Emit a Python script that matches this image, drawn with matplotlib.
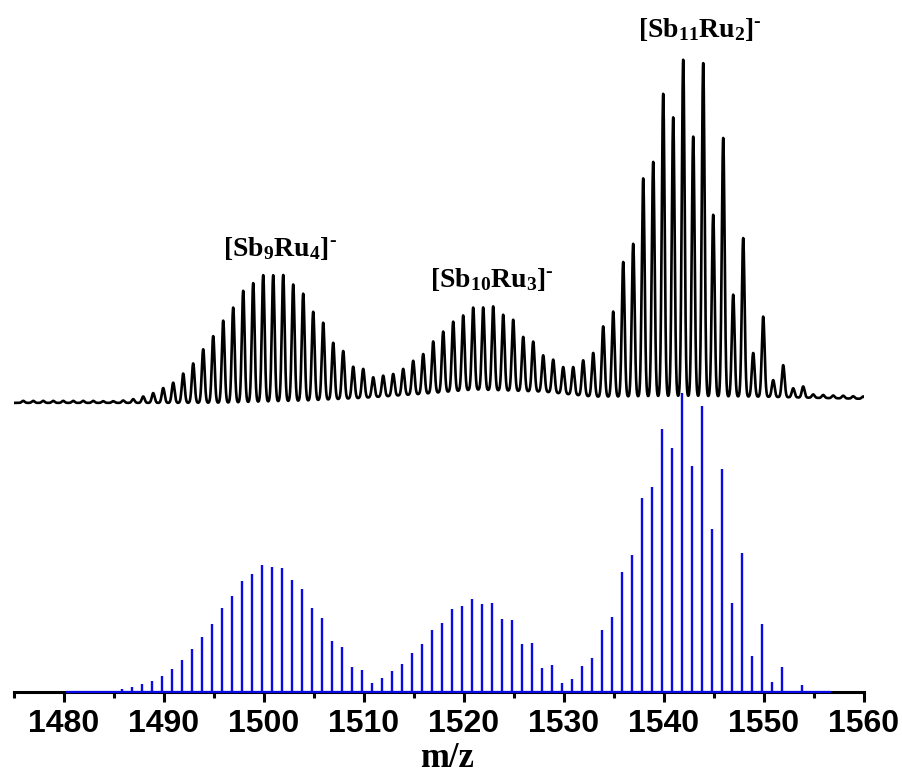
import numpy as np
import matplotlib
matplotlib.use('Agg')
import matplotlib.pyplot as plt

plt.rcParams['mathtext.fontset'] = 'custom'
plt.rcParams['mathtext.bf'] = 'Liberation Serif:bold'
plt.rcParams['mathtext.rm'] = 'Liberation Serif'

# simulated pattern (blue sticks), relative intensity %, one peak per m/z unit
sim_start = 1484.75
sim_int = [0.3, 1.0, 1.7, 2.6, 3.7, 5.4, 7.7, 10.7, 14.3, 18.4,
           22.7, 28.0, 32.2, 37.1, 39.4, 42.3, 41.7, 41.3, 37.5, 34.4,
           28.1, 24.6, 17.1, 15.0, 8.2, 7.3, 2.9, 4.6, 6.9, 9.3,
           13.0, 15.9, 20.7, 23.2, 27.6, 28.6, 31.2, 29.3, 29.8, 24.3,
           24.2, 15.9, 16.4, 8.0, 9.0, 2.9, 4.2, 8.7, 11.5, 20.6,
           25.1, 40.1, 45.9, 64.7, 68.5, 87.8, 81.4, 100.0, 75.6, 95.6,
           54.4, 74.4, 29.7, 46.5, 12.0, 22.7, 3.4, 8.5, 0.4, 2.2]
sim_range = (1480.2, 1556.7)

# experimental spectrum (black), peak heights in % of the largest peak
exp_start = 1475.92
exp_int = [0.6, 0.6, 0.6, 0.6, 0.6, 0.6, 0.6, 0.6, 0.5, 0.5,
           0.7, 1.1, 1.9, 2.9, 4.4, 6.0, 8.7, 11.7, 15.9, 19.8,
           24.4, 28.2, 33.1, 35.3, 37.6, 37.5, 37.5, 34.6, 31.8, 26.3,
           22.9, 16.8, 14.2, 9.4, 8.6, 5.9, 6.2, 6.5, 7.8, 10.0,
           11.8, 15.3, 18.0, 20.7, 22.3, 24.4, 24.5, 24.9, 22.5, 21.1,
           16.1, 14.8, 10.8, 9.8, 7.9, 8.2, 10.5, 13.0, 20.9, 25.3,
           40.0, 45.4, 64.8, 69.7, 89.9, 82.9, 100.0, 77.2, 99.0, 54.0,
           76.8, 30.3, 47.1, 13.0, 23.8, 5.0, 9.5, 2.7, 3.3, 1.0,
           0.9, 0.8, 0.8, 0.7, 0.7]
# slowly varying baseline under the experimental trace
base_mz = [1475, 1496, 1504, 1510, 1516, 1521, 1528, 1533, 1540, 1550, 1560]
base_lift = [0.0, 0.0, 0.6, 1.5, 2.7, 3.9, 3.3, 1.8, 1.8, 1.8, 1.2]

labels = ['$\\mathbf{[Sb_{9}Ru_{4}]^{\u2010}}$',
          '$\\mathbf{[Sb_{10}Ru_{3}]^{\u2010}}$',
          '$\\mathbf{[Sb_{11}Ru_{2}]^{\u2010}}$']
label_mz = [1501.6, 1522.8, 1543.6]
label_y = [145.7, 135.3, 218.8]

exp_offset = 96.6
exp_scale = 1.126
sigma = 0.14

sim_mz = sim_start + np.arange(len(sim_int))
exp_mz = exp_start + np.arange(len(exp_int))

fig = plt.figure(figsize=(9.03, 7.77), dpi=100)
ax = fig.add_axes([14 / 903, 85 / 777, 850 / 903, 692 / 777])

# experimental trace
x = np.arange(1475.1, 1560.0001, 0.01)
y = np.interp(x, base_mz, base_lift)
for m, h in zip(exp_mz, exp_int):
    y = y + h * np.exp(-0.5 * ((x - m) / sigma) ** 2)
ax.plot(x, exp_offset + exp_scale * y, color='black', lw=1.9, zorder=3)

# simulated sticks
ax.vlines(sim_mz, 0, sim_int, color='#0a0ae6', lw=1.7, zorder=4)
ax.hlines(0, sim_range[0], sim_range[1], color='#0a0ae6', lw=1.6, zorder=5, clip_on=False)

for t, m, yy in zip(labels, label_mz, label_y):
    ax.text(m, yy, t, ha='center', va='baseline', fontsize=20, color='black')

ax.set_xlim(1475, 1560)
ax.set_ylim(0, 231.2)
for s in ['left', 'right', 'top']:
    ax.spines[s].set_visible(False)
ax.spines['bottom'].set_linewidth(2.2)
ax.set_yticks([])
ax.set_xticks(np.arange(1480, 1561, 10))
ax.set_xticks(np.arange(1475, 1560, 10), minor=True)
ax.tick_params(axis='x', which='major', direction='out', length=7.5, width=2.2, pad=5)
ax.tick_params(axis='x', which='minor', direction='out', length=4.5, width=2.2)
for lab in ax.get_xticklabels():
    lab.set_family(['Liberation Sans Narrow', 'Liberation Sans'])
    lab.set_fontweight('bold')
    lab.set_fontsize(23)

fig.text(447 / 903, 2 / 777, 'm/z', ha='center', va='bottom', fontsize=25,
         fontweight='bold', family='Liberation Serif')

fig.savefig('out.png', dpi=100)
